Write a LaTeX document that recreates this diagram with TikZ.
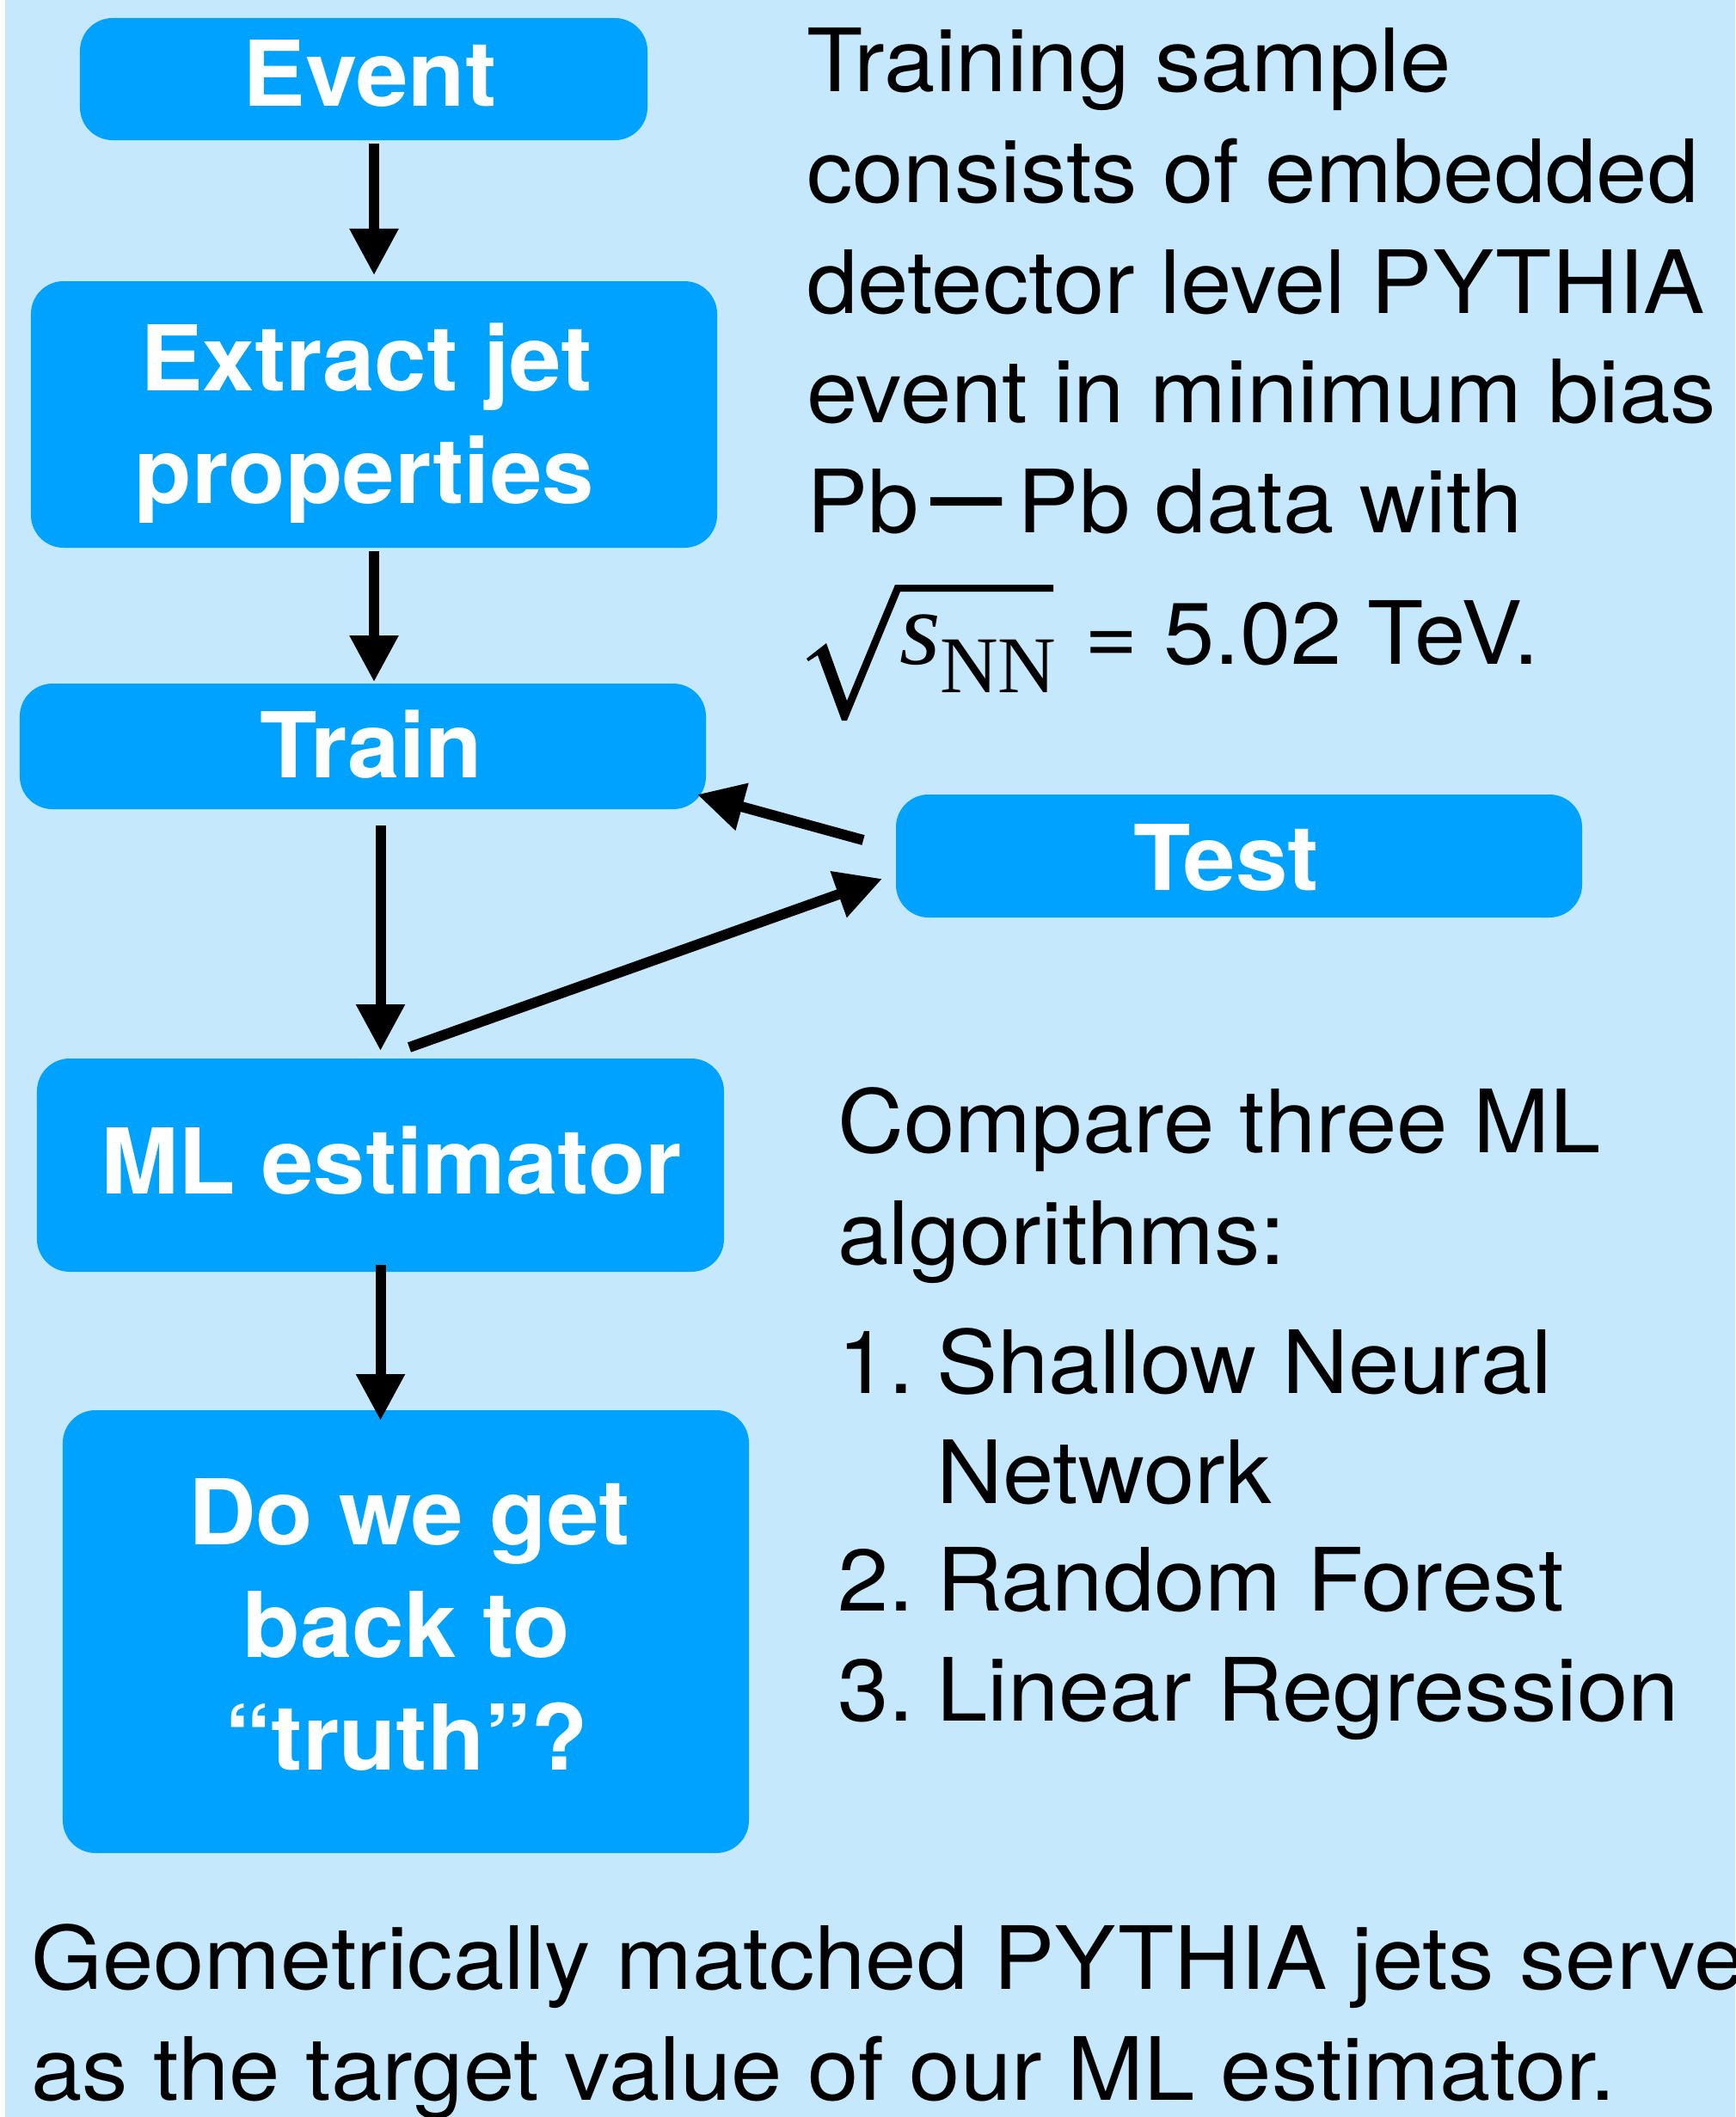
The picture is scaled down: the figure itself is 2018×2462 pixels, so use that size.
\documentclass[tikz,border=0pt]{standalone}
\usepackage{fontspec}
\setmainfont{TeX Gyre Heros}
\newfontfamily\bodyfam[FakeStretch=1.05]{TeX Gyre Heros}
\newfontfamily\boldfam[FakeStretch=1.03]{TeX Gyre Heros}
\newfontfamily\timesfam{Liberation Serif}
\usetikzlibrary{arrows.meta,calc}
\definecolor{bgblue}{RGB}{198,232,252}
\definecolor{boxblue}{RGB}{0,162,255}
\newcommand\bodyfont{\bodyfam\fontsize{102}{102}\selectfont}
\tikzset{
  box/.style={fill=boxblue, draw=none, rounded corners=38bp, inner sep=0pt, outer sep=0pt},
  boxtext/.style={text=white, font=\boldfam\fontsize{106}{106}\selectfont\bfseries, anchor=base, inner sep=0pt},
  bodytext/.style={text=black, font=\bodyfont, anchor=base west, inner sep=0pt},
  arr/.style={draw=black, line width=12bp, -{Triangle[width=54bp,length=54bp]}},
}
\begin{document}
\begin{tikzpicture}[x=1bp,y=-1bp]
\useasboundingbox (0,0) rectangle (2018,2462);
\clip (0,0) rectangle (2018,2462);
\fill[white] (0,0) rectangle (6,2462);
\fill[bgblue] (6,0) rectangle (2018,2462);

% boxes
\node[box, minimum width=660bp, minimum height=142bp] (event)   at (423,92) {};
\node[box, minimum width=798bp, minimum height=310bp] (extract) at (435,482) {};
\node[box, minimum width=798bp, minimum height=146bp] (train)   at (422,868) {};
\node[box, minimum width=798bp, minimum height=143bp] (test)    at (1441,995.5) {};
\node[box, minimum width=799bp, minimum height=248bp] (ml)      at (442.5,1355) {};
\node[box, minimum width=798bp, minimum height=515bp] (do)      at (472,1897.5) {};

% box labels
\node[boxtext] (eventT)    at (430,124)  {Event};
\node[boxtext] (extractT1) at (426,454)  {Extract jet};
\node[boxtext] (extractT2) at (424,585)  {properties};
\node[boxtext] (trainT)    at (432,904)  {Train};
\node[boxtext] (testT)     at (1426,1035) {Test};
\node[boxtext] (mlT)       at (455,1388) {ML estimator};
\node[boxtext] (doT1)      at (476,1796) {Do we get};
\node[boxtext] (doT2)      at (473,1927) {back to};
\node[boxtext] (doT3)      at (473,2058) {“truth”?};

% connectors
\draw[arr] ($(extract.north |- event.south)+(0,4)$) -- ($(extract.north)+(0,-7)$);
\draw[arr] ($(extract.south)+(0,4)$) -- ($(train.north -| extract.south)+(0,-2)$);
\draw[arr] ($(ml.north |- train.south)+(0,19)$) -- ($(ml.north)+(0,-9)$);
\draw[arr] ($(ml.south)+(0,-8)$) -- ($(ml.south |- do.north)+(0,12)$);
\draw[arr] ($(test.west)+(-38,-18.5)$) -- ($(train.south east)+(-10,-17)$);
\draw[arr] ($(ml.north)+(33.5,-13)$) -- ($(test.west)+(-16,26.5)$);

% right column text
\node[bodytext] (tr1) at (938,107) {Training sample};
\node[bodytext] (tr2) at (938,235) {consists of embedded};
\node[bodytext] (tr3) at (938,364) {detector level PYTHIA};
\node[bodytext] (tr4) at (938,491) {event in minimum bias};
\node[bodytext] (tr5) at (938,619) {Pb\kern14bp\raisebox{-2bp}{\scalebox{0.78}[1.35]{—}}\kern18bp Pb data with};

% square root sign of sqrt(s_NN)
\fill[black] (938,766) -- (961,748) -- (985,815) -- (1041,680) -- (1225,680)
  -- (1225,688) -- (1047,688) -- (985,838) -- (979,838) -- (951,762) -- (940,769) -- cycle;
\node[anchor=base west, inner sep=0pt, font=\timesfam\itshape\fontsize{123}{123}\selectfont] (sv) at (1046,772) {s};
\node[anchor=base west, inner sep=0pt, font=\timesfam\fontsize{94}{94}\selectfont] (snn) at (1093,805) {NN};
\node[bodytext] (tr6) at (1261,772) {= 5.02 TeV.};

\node[bodytext] (cm1) at (974,1340) {Compare three ML};
\node[bodytext] (cm2) at (974,1470) {algorithms:};
\node[bodytext] (n1)  at (974,1620) {1.};
\node[bodytext] (i1a) at (1089,1620) {Shallow Neural};
\node[bodytext] (i1b) at (1089,1748) {Network};
\node[bodytext] (n2)  at (974,1873) {2.};
\node[bodytext] (i2)  at (1089,1873) {Random Forest};
\node[bodytext] (n3)  at (974,2001) {3.};
\node[bodytext] (i3)  at (1089,2001) {Linear Regression};

% bottom text
\node[bodytext] (bt1) at (36,2313) {Geometrically matched PYTHIA jets serve};
\node[bodytext] (bt2) at (36,2442) {as the target value of our ML estimator.};
\end{tikzpicture}
\end{document}
